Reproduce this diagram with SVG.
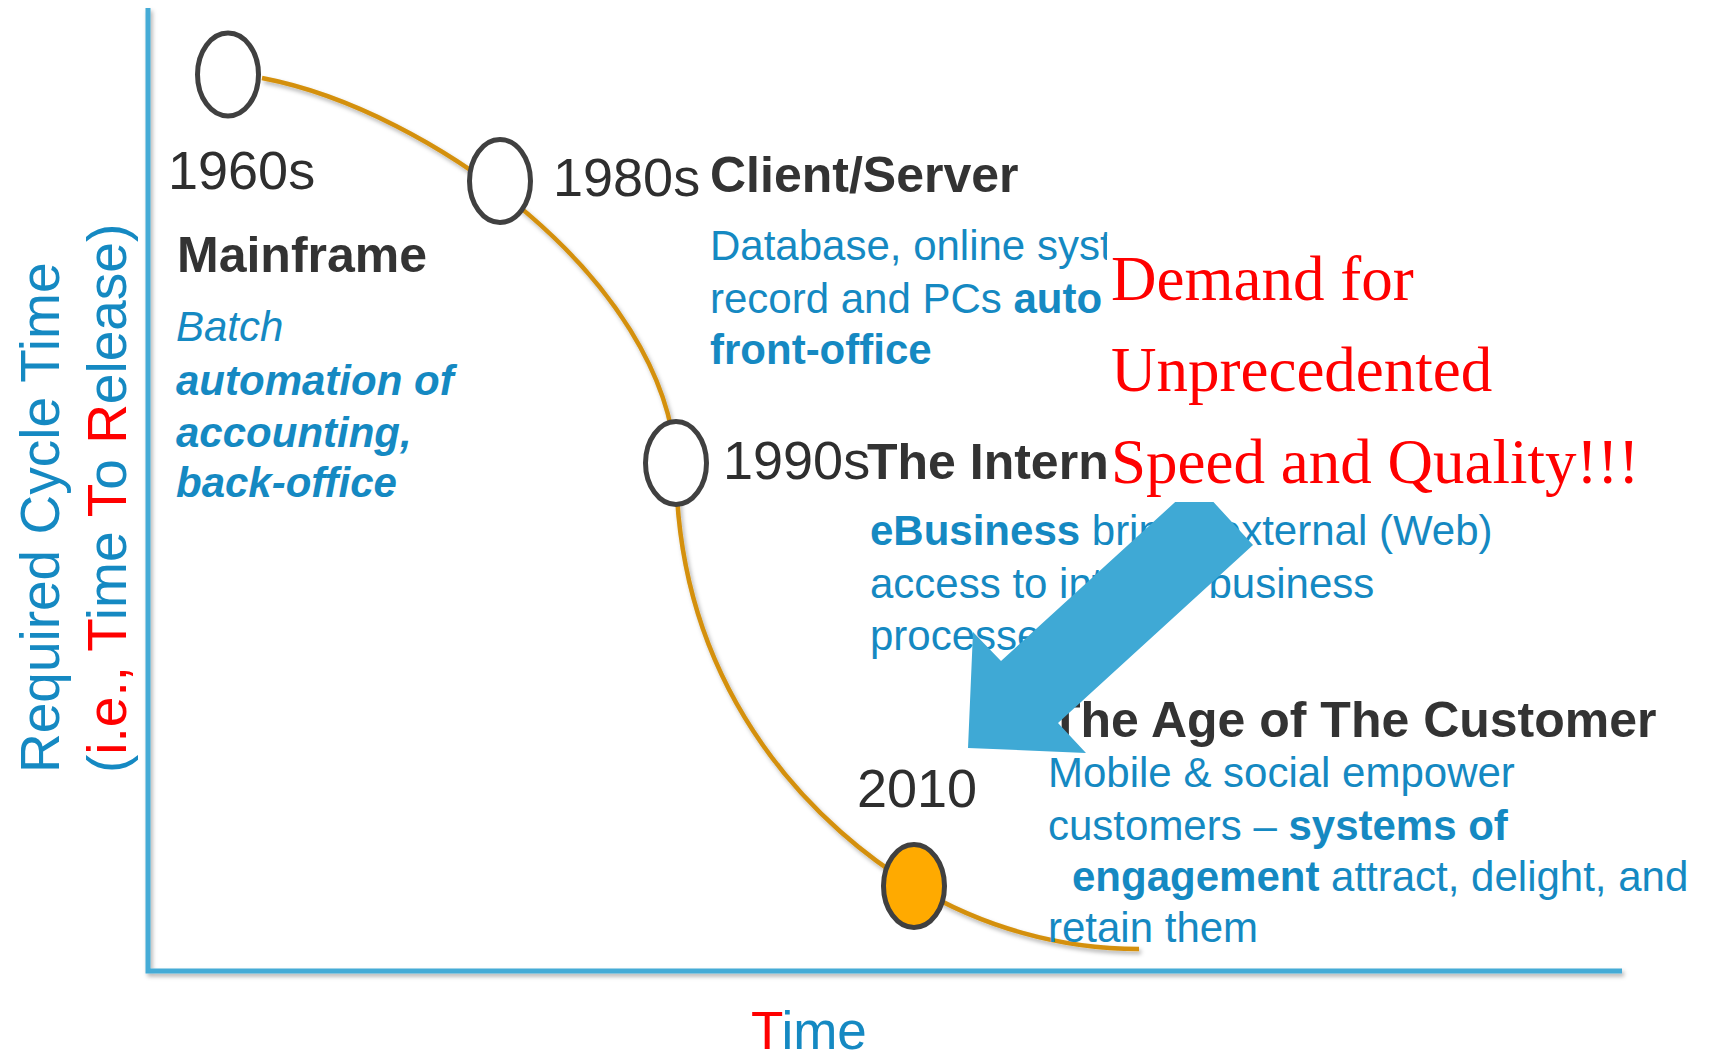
<svg xmlns="http://www.w3.org/2000/svg" width="1709" height="1061" viewBox="0 0 1709 1061">
<defs>
<filter id="shadow" x="-5%" y="-5%" width="110%" height="110%">
<feDropShadow dx="2" dy="3" stdDeviation="2" flood-color="#000" flood-opacity="0.3"/>
</filter>
</defs>
<style>
.axis{stroke:#45ABD6;stroke-width:5;fill:none;filter:url(#shadow)}
.curve{stroke:#D4900A;stroke-width:4.5;fill:none;filter:url(#shadow)}
.node{stroke:#404040;stroke-width:5;fill:#FFFFFF}
.year{font-family:"Liberation Sans",Arial,sans-serif;font-size:54px;fill:#2E2E2E}
.head{font-family:"Liberation Sans",Arial,sans-serif;font-size:50px;font-weight:bold;fill:#333333}
.body{font-family:"Liberation Sans",Arial,sans-serif;font-size:42px;fill:#1589C2}
.b{font-weight:bold}
.red{fill:#FF0000}
.label{font-family:"Liberation Sans",Arial,sans-serif;font-size:55px;fill:#1589C2}
.demand{font-family:"Liberation Serif","Times New Roman",serif;font-size:63px;fill:#FF0000}
</style>

<g id="axes">
<polyline class="axis" points="148,8 148,971 1622,971"/>
</g>

<g id="connectors">
<path class="curve" d="M 262 78 C 430 110 665 280 676 463 C 676 703 828 834 914 886 C 982 927 1060 949 1139 949"/>
</g>

<g id="axis-labels">
<text class="label" transform="translate(59,773) rotate(-90)">Required Cycle Time</text>
<text class="label" transform="translate(126,773) rotate(-90)">(<tspan class="red">i.e.,</tspan> <tspan class="red">T</tspan>ime <tspan class="red">T</tspan>o <tspan class="red">R</tspan>elease)</text>
<text class="label" x="751" y="1049" style="font-size:53px"><tspan class="red">T</tspan>ime</text>
</g>

<g id="node-1960s">
<ellipse class="node" cx="228" cy="74.5" rx="30.5" ry="41.5"/>
<text class="year" x="168" y="189">1960s</text>
<text class="head" x="177" y="272">Mainframe</text>
<text class="body" x="176" y="341" font-style="italic">Batch</text>
<text class="body b" x="176" y="395" font-style="italic">automation of</text>
<text class="body b" x="176" y="447" font-style="italic">accounting,</text>
<text class="body b" x="176" y="497" font-style="italic">back-office</text>
</g>

<g id="node-1980s">
<ellipse class="node" cx="500" cy="181" rx="30.5" ry="41.5"/>
<text class="year" x="553" y="196">1980s</text>
<text class="head" x="710" y="192">Client/Server</text>
<text class="body" x="710" y="260">Database, online syst</text>
<text class="body" x="710" y="313">record and PCs <tspan class="b">auto</tspan></text>
<text class="body b" x="710" y="364">front-office</text>
</g>

<g id="node-1990s">
<ellipse class="node" cx="676" cy="463" rx="30.5" ry="41.5"/>
<text class="year" x="723" y="479">1990s</text>
<text class="head" x="867" y="479">The Intern</text>
<text class="body" x="870" y="545"><tspan class="b">eBusiness</tspan> brings external (Web)</text>
<text class="body" x="870" y="598">access to internal business</text>
<text class="body" x="870" y="650">processes</text>
</g>

<g id="node-2010">
<ellipse class="node" cx="914" cy="886" rx="30.5" ry="41.5" style="fill:#FFAA00"/>
<text class="year" x="857" y="807">2010</text>
<text class="head" x="1050" y="737">The Age of The Customer</text>
<text class="body" x="1048" y="787">Mobile &amp; social empower</text>
<text class="body" x="1048" y="840">customers – <tspan class="b">systems of</tspan></text>
<text class="body" x="1072" y="891"><tspan class="b">engagement</tspan> attract, delight, and</text>
<text class="body" x="1048" y="942">retain them</text>
</g>

<g id="demand-arrow">
<polygon points="1196,483 1253,545 1058,723 1086,753 968,748 973,632 1001,661" fill="#3FA9D5"/>
</g>

<g id="demand-callout">
<rect x="1107" y="236" width="572" height="266" fill="#FFFFFF"/>
<text class="demand" x="1111" y="300">Demand for</text>
<text class="demand" x="1111" y="391">Unprecedented</text>
<text class="demand" x="1111" y="483">Speed and Quality!!!</text>
</g>
</svg>
